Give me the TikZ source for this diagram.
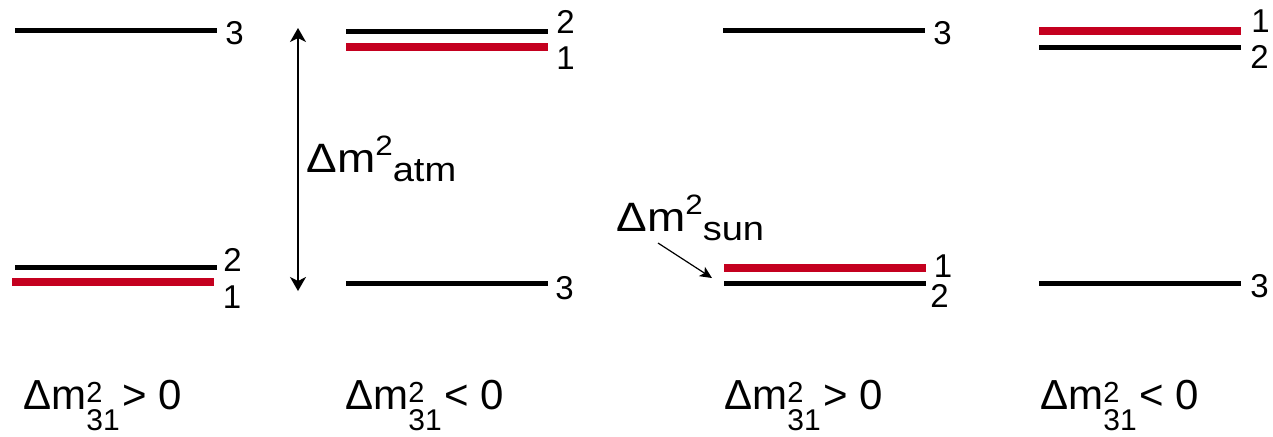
\documentclass[tikz,border=0pt]{standalone}
\usepackage{fontspec}
\setmainfont{Liberation Sans}
\usepackage{tikz}
\usetikzlibrary{arrows.meta,positioning}
\usepackage{xcolor}
\definecolor{levelRed}{HTML}{C4001F}

% mass splitting labels
\newcommand{\dmsq}[1]{\scalebox{1.12}[1]{Δm\raisebox{8.5pt}{\fontsize{14}{14}\selectfont 2}\raisebox{-4.5pt}{\fontsize{17}{17}\selectfont #1}}}
\newcommand{\dmthree}{Δm\rlap{\raisebox{3.5pt}{\fontsize{14.5}{14.5}\selectfont 2}}\raisebox{-10.5pt}{\fontsize{15}{15}\selectfont 31}}

\tikzset{
  lvl/.style={fill=black, inner sep=0pt, minimum width=101pt, minimum height=2.5pt},
  lvlred/.style={lvl, fill=levelRed, minimum height=4pt},
  num/.style={inner sep=0pt, font=\fontsize{16.5}{16.5}\selectfont},
  dmlab/.style={inner sep=0pt, anchor=base west, font=\fontsize{20.5}{21}\selectfont},
  orderlab/.style={inner sep=0pt, anchor=base west, font=\fontsize{21}{21}\selectfont}
}

\begin{document}
\begin{tikzpicture}[x=0.5pt, y=-0.5pt]
    \useasboundingbox (0,0) rectangle (1273,436);
    % normal ordering
    \node[lvl] (a3) at (115.5,30) {};
    \node[lvl] (a2) at (115.5,267) {};
    \node[lvlred] (a1) at (113,282) {};
    \node[num, right=4pt of a3, yshift=-1.5pt] (a3n) {3};
    \node[num, right=3pt of a2, yshift=3.5pt] (a2n) {2};
    \node[num, right=4pt of a1, yshift=-7.5pt] (a1n) {1};
    % inverted ordering
    \node[lvl] (b2) at (446.5,31) {};
    \node[lvlred] (b1) at (446.5,47) {};
    \node[lvl] (b3) at (446.5,283) {};
    \node[num, right=4pt of b2, yshift=4.5pt] (b2n) {2};
    \node[num, right=4pt of b1, yshift=-5.5pt] (b1n) {1};
    \node[num, right=3.5pt of b3, yshift=-2.5pt] (b3n) {3};
    % atmospheric splitting
    \coordinate (atmtop) at (298,28);
    \coordinate (atmbot) at (298,291);
    \draw[{Stealth[length=7pt,width=8pt,inset=2pt]}-{Stealth[length=7pt,width=8pt,inset=2pt]}, line width=0.6pt] (atmtop) -- (atmbot);
    \node[dmlab] (atmlab) at (306,172) {\dmsq{atm}};
    % normal ordering, solar pair swapped
    \node[lvl] (c3) at (823.5,30) {};
    \node[lvlred] (c1) at (825,268) {};
    \node[lvl] (c2) at (824.5,283) {};
    \node[num, right=4pt of c3, yshift=-1.5pt] (c3n) {3};
    \node[num, right=3.5pt of c1, yshift=1pt] (c1n) {1};
    \node[num, right=2pt of c2, yshift=-6.5pt] (c2n) {2};
    \node[dmlab] (sunlab) at (616,231) {\dmsq{sun}};
    \coordinate (sunfrom) at (658,243);
    \coordinate (sunto) at (712,278);
    \draw[-{Stealth[length=6pt,width=5.5pt,inset=1.5pt]}, line width=0.6pt] (sunfrom) -- (sunto);
    % inverted ordering, solar pair swapped
    \node[lvlred] (d1) at (1139.5,31) {};
    \node[lvl] (d2) at (1139.5,47) {};
    \node[lvl] (d3) at (1139.5,283) {};
    \node[num, right=5pt of d1, yshift=5pt] (d1n) {1};
    \node[num, right=4.5pt of d2, yshift=-5pt] (d2n) {2};
    \node[num, right=4.5pt of d3, yshift=-1.5pt] (d3n) {3};
    % ordering labels
    \node[orderlab] (oa) at (23,409) {\dmthree\kern1.5pt> 0};
    \node[orderlab] (ob) at (345,409) {\dmthree\kern1.5pt< 0};
    \node[orderlab] (oc) at (724,409) {\dmthree\kern1.5pt> 0};
    \node[orderlab] (od) at (1040,409) {\dmthree\kern1.5pt< 0};
  \end{tikzpicture}
\end{document}
